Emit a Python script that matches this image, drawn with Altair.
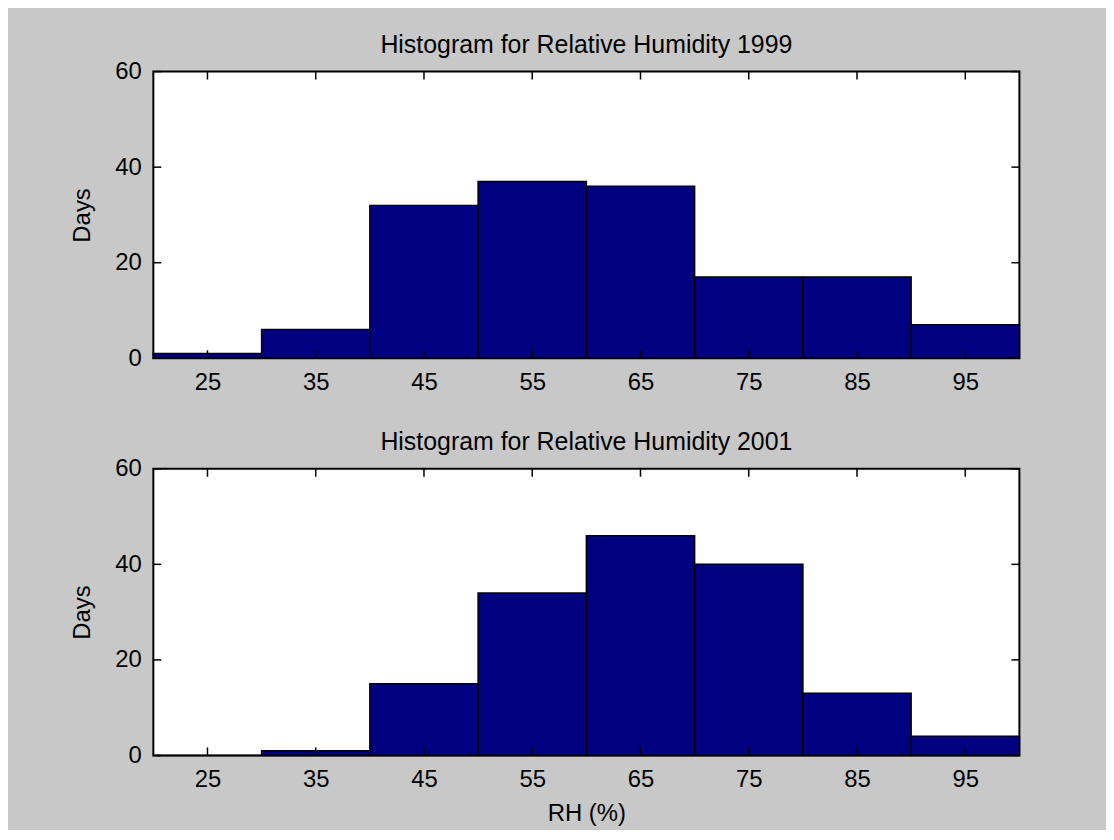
import altair as alt
import pandas as pd

bin_lo = [20, 30, 40, 50, 60, 70, 80, 90]
bin_hi = [30, 40, 50, 60, 70, 80, 90, 100]
days_1999 = [1, 6, 32, 37, 36, 17, 17, 7]
days_2001 = [0, 1, 15, 34, 46, 40, 13, 4]
xticks = [25, 35, 45, 55, 65, 75, 85, 95]
yticks = [0, 20, 40, 60]

W, H = 870, 288
FONT = "Liberation Sans"
FS = 24
TICK = 8


def panel(counts, title, xtitle):
    df = pd.DataFrame({"lo": bin_lo, "hi": bin_hi, "days": counts})
    xscale = alt.Scale(domain=[20, 100], nice=False, zero=False)
    yscale = alt.Scale(domain=[0, 60], nice=False)
    xaxis = alt.Axis(values=xticks, title=xtitle) if xtitle else alt.Axis(values=xticks, title=None)
    yaxis = alt.Axis(values=yticks, title="Days")
    bars = alt.Chart(df).mark_rect(
        color="#000080", stroke="black", strokeWidth=1.5
    ).encode(
        x=alt.X("lo:Q", scale=xscale, axis=xaxis),
        x2="hi:Q",
        y=alt.Y("days:Q", scale=yscale, axis=yaxis),
        y2=alt.datum(0),
    )
    xt = pd.DataFrame({"t": xticks})
    yt = pd.DataFrame({"t": yticks})
    xb = alt.Chart(xt).mark_rule(color="black", strokeWidth=1.5).encode(
        x=alt.X("t:Q", scale=xscale, axis=xaxis), y=alt.value(H), y2=alt.value(H - TICK))
    xtop = alt.Chart(xt).mark_rule(color="black", strokeWidth=1.5).encode(
        x=alt.X("t:Q", scale=xscale, axis=xaxis), y=alt.value(0), y2=alt.value(TICK))
    yl = alt.Chart(yt).mark_rule(color="black", strokeWidth=1.5).encode(
        y=alt.Y("t:Q", scale=yscale, axis=yaxis), x=alt.value(0), x2=alt.value(TICK))
    yr = alt.Chart(yt).mark_rule(color="black", strokeWidth=1.5).encode(
        y=alt.Y("t:Q", scale=yscale, axis=yaxis), x=alt.value(W), x2=alt.value(W - TICK))
    return alt.layer(bars, xb, xtop, yl, yr).properties(
        width=W, height=H,
        title=alt.TitleParams(title, fontSize=25, font=FONT, fontWeight="normal",
                              color="black", offset=2),
    )


top = panel(days_1999, "Histogram for Relative Humidity 1999", None)
bottom = panel(days_2001, "Histogram for Relative Humidity 2001", "RH (%)")

chart = alt.vconcat(top, bottom, spacing=34).properties(
    background="#c8c8c8",
    padding={"left": 62, "top": 22, "right": 85, "bottom": 2},
).configure_view(
    fill="white", stroke="black", strokeWidth=2
).configure_axis(
    domain=False, ticks=False, grid=False,
    labelFont=FONT, labelFontSize=FS, labelColor="black",
    titleFont=FONT, titleFontSize=FS, titleFontWeight="normal", titleColor="black",
    labelPadding=12, titlePadding=20,
).configure_axisX(titlePadding=10)

chart.save("out.html", embed_options={"renderer": "svg", "actions": False})
